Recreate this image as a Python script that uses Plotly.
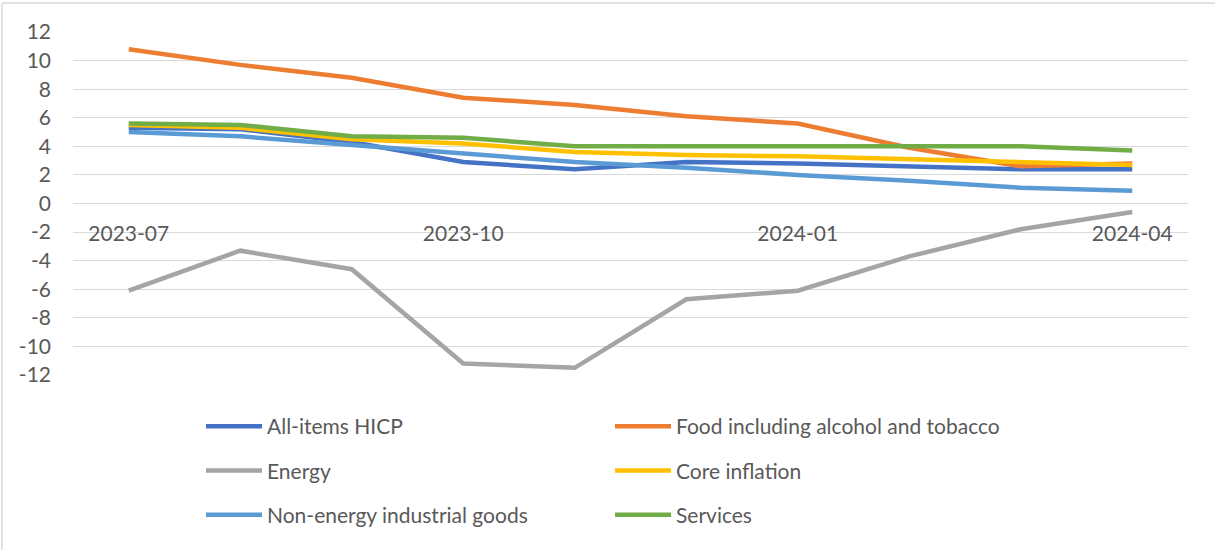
import plotly.graph_objects as go

# Monthly annual rates of change, euro area HICP components (%)
months = ["2023-07", "2023-08", "2023-09", "2023-10", "2023-11",
          "2023-12", "2024-01", "2024-02", "2024-03", "2024-04"]
tick_months = ["2023-07", "2023-10", "2024-01", "2024-04"]
y_ticks = [12, 10, 8, 6, 4, 2, 0, -2, -4, -6, -8, -10, -12]
y_tick_labels = ["12", "10", "8", "6", "4", "2", "0",
                 "-2", "-4", "-6", "-8", "-10", "-12"]

all_items = [5.3, 5.2, 4.3, 2.9, 2.4, 2.9, 2.8, 2.6, 2.4, 2.4]
food = [10.8, 9.7, 8.8, 7.4, 6.9, 6.1, 5.6, 3.9, 2.6, 2.8]
energy = [-6.1, -3.3, -4.6, -11.2, -11.5, -6.7, -6.1, -3.7, -1.8, -0.6]
core = [5.5, 5.3, 4.5, 4.2, 3.6, 3.4, 3.3, 3.1, 2.9, 2.7]
neig = [5.0, 4.7, 4.1, 3.5, 2.9, 2.5, 2.0, 1.6, 1.1, 0.9]
services = [5.6, 5.5, 4.7, 4.6, 4.0, 4.0, 4.0, 4.0, 4.0, 3.7]

series = [
    ("All-items HICP", all_items, "#4472C4", "legend"),
    ("Food including alcohol and tobacco", food, "#ED7D31", "legend2"),
    ("Energy", energy, "#A5A5A5", "legend"),
    ("Core inflation", core, "#FFC000", "legend2"),
    ("Non-energy industrial goods", neig, "#5B9BD5", "legend"),
    ("Services", services, "#70AD47", "legend2"),
]

FONT = "Lato, Carlito, Calibri, sans-serif"
TEXT = "#595959"
GRID = "#D9D9D9"
W, H = 1215, 550
ML, MR, MT, MB = 73, 27, 32, 175
PW, PH = W - ML - MR, H - MT - MB

fig = go.Figure()
for i, (name, vals, color, leg) in enumerate(series):
    fig.add_trace(go.Scatter(
        x=months, y=vals, name=name, mode="lines",
        line=dict(color=color, width=4.5),
        legend=leg, legendgroup=f"g{i}",
        hoverinfo="x+y+name",
    ))

legend_common = dict(
    font=dict(family=FONT, size=21, color=TEXT),
    bgcolor="rgba(0,0,0,0)", borderwidth=0,
    orientation="v", tracegroupgap=14, itemwidth=56,
    xref="container", yref="container",
    xanchor="left", yanchor="top",
)

fig.update_layout(
    width=W, height=H,
    margin=dict(l=ML, r=MR, t=MT, b=MB, autoexpand=False),
    paper_bgcolor="white", plot_bgcolor="white",
    font=dict(family=FONT, size=21, color=TEXT),
    showlegend=True,
    legend=dict(x=201 / W, y=1 - 406 / H, **legend_common),
    legend2=dict(x=610 / W, y=1 - 406 / H, **legend_common),
    xaxis=dict(
        type="category", range=[-0.5, 9.5],
        tickmode="array", tickvals=tick_months, ticktext=tick_months,
        showgrid=False, zeroline=False, showline=False, ticks="",
        anchor="free", position=0.5, ticklabelstandoff=15, tickangle=0,
        automargin=False,
        tickfont=dict(family=FONT, size=21, color=TEXT),
    ),
    yaxis=dict(
        range=[-12, 12],
        tickmode="array", tickvals=y_ticks, ticktext=y_tick_labels,
        showgrid=True, gridcolor=GRID, gridwidth=1.3,
        zeroline=True, zerolinecolor=GRID, zerolinewidth=1.3,
        showline=False, ticks="", ticklabelstandoff=21, automargin=False,
        tickfont=dict(family=FONT, size=21, color=TEXT),
    ),
    shapes=[
        # chart area border (top and left edges)
        dict(type="line", xref="paper", yref="paper",
             x0=(2 - ML) / PW, x1=(W + 5 - ML) / PW,
             y0=1 + (MT - 3) / PH, y1=1 + (MT - 3) / PH,
             line=dict(color=GRID, width=1.5)),
        dict(type="line", xref="paper", yref="paper",
             x0=(2 - ML) / PW, x1=(2 - ML) / PW,
             y0=1 + (MT - 3) / PH, y1=-(H + 5 - MT - PH) / PH,
             line=dict(color=GRID, width=1.5)),
    ],
)

fig.write_html("out.html")
